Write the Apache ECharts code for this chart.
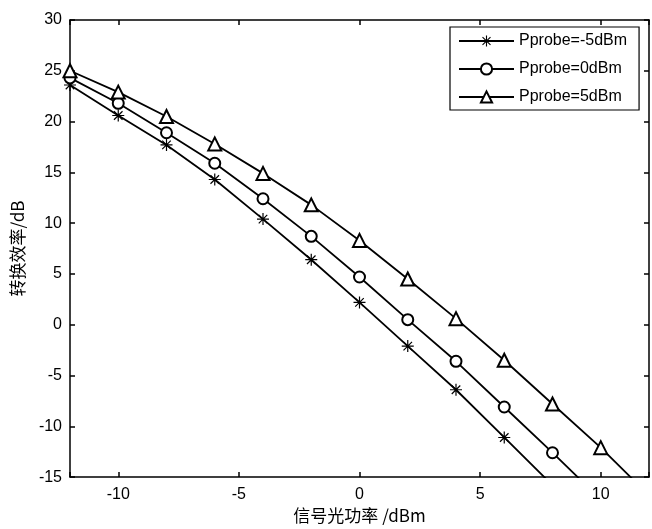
<!DOCTYPE html>
<html>
<head>
<meta charset="utf-8">
<script src="https://cdn.jsdelivr.net/npm/echarts@6/dist/echarts.min.js"></script>
<style>
  html, body { margin: 0; padding: 0; background: #fff; }
  #myCharts { width: 652px; height: 529px; }
</style>
</head>
<body>
<div id="myCharts"></div>
<script>
  // 信号光功率 (dBm)
  const signalPower = [-12, -10, -8, -6, -4, -2, 0, 2, 4, 6, 8, 10, 12];
  // 转换效率 (dB), one array per probe power
  const effProbeM5 = [23.6, 20.6, 17.7, 14.3, 10.4, 6.4, 2.2, -2.1, -6.4, -11.1, -15.8];
  const effProbe0 = [24.3, 21.8, 18.9, 15.9, 12.4, 8.7, 4.7, 0.5, -3.6, -8.1, -12.6, -17.2];
  const effProbe5 = [25.0, 22.9, 20.5, 17.8, 14.9, 11.8, 8.3, 4.5, 0.6, -3.5, -7.8, -12.1, -16.8];
  const seriesNames = ['Pprobe=-5dBm', 'Pprobe=0dBm', 'Pprobe=5dBm'];
  const xTicks = [-10, -5, 0, 5, 10];
  const yTicks = [-15, -10, -5, 0, 5, 10, 15, 20, 25, 30];

  // asterisk marker (matlab '*')
  const starPath = 'path://M0 9L20 9L20 11L0 11Z M9 0L11 0L11 20L9 20Z ' +
    'M2.2 3.6L3.6 2.2L17.8 16.4L16.4 17.8Z M16.4 2.2L17.8 3.6L3.6 17.8L2.2 16.4Z';

  function pairs(vals) {
    return vals.map((v, i) => [signalPower[i], v]);
  }

  const font = 'Liberation Sans, Arial, sans-serif';
  const cjk = 'Noto Sans CJK SC, sans-serif';

  const myChart = echarts.init(document.getElementById('myCharts'));

  const baseAxis = {
    axisLine: { show: true, onZero: false, lineStyle: { color: '#000', width: 1.5 } },
    axisTick: { show: true, inside: true, length: 5, lineStyle: { color: '#000', width: 1.5 } },
    splitLine: { show: false }
  };

  const lineSeries = (name, vals, symbol, size) => ({
    name: name,
    type: 'line',
    xAxisIndex: 0,
    yAxisIndex: 0,
    data: pairs(vals),
    symbol: symbol,
    symbolSize: size,
    showAllSymbol: true,
    clip: true,
    lineStyle: { color: '#000', width: 1.8 },
    itemStyle: symbol === starPath
      ? { color: '#000' }
      : { color: '#000', borderColor: '#000', borderWidth: 1.6 },
    z: 3
  });

  const option = {
    backgroundColor: '#fff',
    animation: false,
    grid: { left: 70, right: 1, top: 20, bottom: 46 },
    legend: {
      orient: 'vertical',
      left: 450,
      top: 27,
      padding: [6, 12, 5, 8],
      itemWidth: 55,
      itemHeight: 14,
      itemGap: 12,
      backgroundColor: '#fff',
      borderColor: '#000',
      borderWidth: 1.2,
      textStyle: { color: '#000', fontSize: 16, fontFamily: font },
      data: seriesNames
    },
    xAxis: [
      Object.assign({}, baseAxis, {
        type: 'value',
        position: 'bottom',
        min: -12,
        max: 12,
        name: '信号光功率 /dBm',
        nameLocation: 'middle',
        nameGap: 25,
        nameTextStyle: { color: '#000', fontSize: 17, fontFamily: cjk },
        axisLabel: {
          color: '#000', fontSize: 16, fontFamily: font, margin: 9,
          formatter: v => xTicks.includes(v) ? String(v) : ''
        }
      }),
      Object.assign({}, baseAxis, {
        type: 'value',
        position: 'top',
        min: -12,
        max: 12,
        axisLabel: { show: false }
      })
    ],
    yAxis: [
      Object.assign({}, baseAxis, {
        type: 'value',
        position: 'left',
        min: -15,
        max: 30,
        interval: 5,
        name: '转换效率/dB',
        nameLocation: 'middle',
        nameGap: 44,
        nameTextStyle: { color: '#000', fontSize: 17, fontFamily: cjk },
        axisLabel: {
          color: '#000', fontSize: 16, fontFamily: font, margin: 8,
          formatter: v => yTicks.includes(v) ? String(v) : ''
        }
      }),
      Object.assign({}, baseAxis, {
        type: 'value',
        position: 'right',
        min: -15,
        max: 30,
        interval: 5,
        axisLabel: { show: false }
      })
    ],
    series: [
      lineSeries(seriesNames[0], effProbeM5, starPath, 12),
      lineSeries(seriesNames[1], effProbe0, 'emptyCircle', 11),
      lineSeries(seriesNames[2], effProbe5, 'emptyTriangle', 13)
    ]
  };

  myChart.setOption(option);
</script>
</body>
</html>
